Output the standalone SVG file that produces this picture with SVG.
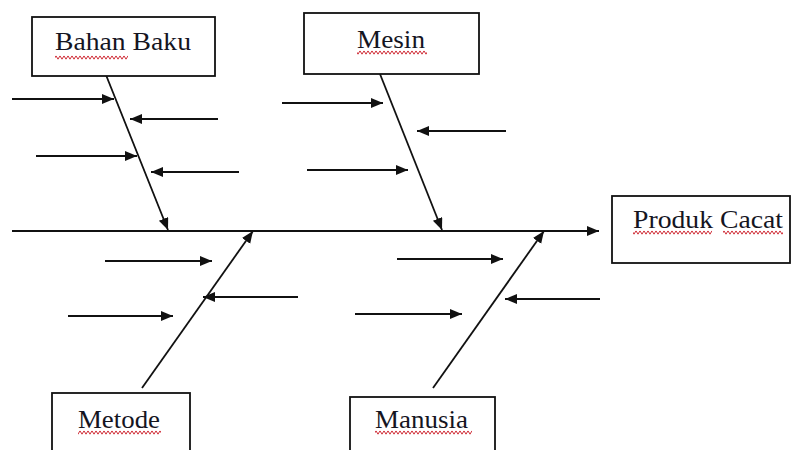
<svg xmlns="http://www.w3.org/2000/svg" width="793" height="450" viewBox="0 0 793 450">
  <style>
    .box { fill: #fff; stroke: #111; stroke-width: 1.8; }
    .label { font-family: "Liberation Serif", "Times New Roman", serif; font-size: 26px; fill: #15151f; }
    .line { stroke: #111; stroke-width: 1.8; fill: none; }
    .spine { stroke: #111; stroke-width: 2; fill: none; }
    .squiggle { fill: url(#squiggle); }
  </style>
  <defs>
    <marker id="arrow" markerUnits="userSpaceOnUse" markerWidth="13" markerHeight="11" refX="12" refY="5" orient="auto">
      <path d="M0,0 L12,5 L0,10 z" fill="#111"/>
    </marker>
    <!-- red wavy underline used under words -->
    <pattern id="squiggle" width="4" height="5" patternUnits="userSpaceOnUse">
      <path d="M0,0.8 L2,4.2 L4,0.8" stroke="#d0303a" stroke-width="1" fill="none"/>
    </pattern>
  </defs>

  <!-- connectors -->
  <g id="connectors">
    <!-- main spine -->
    <line class="spine" x1="12" y1="231" x2="599" y2="231" marker-end="url(#arrow)"/>

    <!-- Bahan Baku bone -->
    <line class="line" x1="106" y1="75" x2="168" y2="230" marker-end="url(#arrow)"/>
    <line class="line" x1="12" y1="99" x2="114" y2="99" marker-end="url(#arrow)"/>
    <line class="line" x1="218" y1="119" x2="130" y2="119" marker-end="url(#arrow)"/>
    <line class="line" x1="36" y1="156" x2="137" y2="156" marker-end="url(#arrow)"/>
    <line class="line" x1="239" y1="172" x2="151" y2="172" marker-end="url(#arrow)"/>

    <!-- Mesin bone -->
    <line class="line" x1="380" y1="74" x2="442" y2="230" marker-end="url(#arrow)"/>
    <line class="line" x1="282" y1="103" x2="383" y2="103" marker-end="url(#arrow)"/>
    <line class="line" x1="506" y1="131" x2="417" y2="131" marker-end="url(#arrow)"/>
    <line class="line" x1="307" y1="170" x2="408" y2="170" marker-end="url(#arrow)"/>

    <!-- Metode bone -->
    <line class="line" x1="142" y1="388" x2="253" y2="231" marker-end="url(#arrow)"/>
    <line class="line" x1="105" y1="261" x2="212" y2="261" marker-end="url(#arrow)"/>
    <line class="line" x1="298" y1="297" x2="203" y2="297" marker-end="url(#arrow)"/>
    <line class="line" x1="68" y1="316" x2="173" y2="316" marker-end="url(#arrow)"/>

    <!-- Manusia bone -->
    <line class="line" x1="433" y1="388" x2="544" y2="231" marker-end="url(#arrow)"/>
    <line class="line" x1="397" y1="259" x2="503" y2="259" marker-end="url(#arrow)"/>
    <line class="line" x1="600" y1="299" x2="505" y2="299" marker-end="url(#arrow)"/>
    <line class="line" x1="355" y1="314" x2="462" y2="314" marker-end="url(#arrow)"/>
  </g>

  <!-- cause categories -->
  <g id="bahan-baku">
    <rect class="box" x="32" y="17" width="183" height="59"/>
    <text class="label" x="55" y="50" textLength="136" lengthAdjust="spacingAndGlyphs">Bahan Baku</text>
    <rect class="squiggle" x="55" y="55" width="73" height="5"/>
  </g>

  <g id="mesin">
    <rect class="box" x="304" y="13" width="175" height="61"/>
    <text class="label" x="357" y="48" textLength="68" lengthAdjust="spacingAndGlyphs">Mesin</text>
    <rect class="squiggle" x="357" y="50" width="70" height="5"/>
  </g>

  <g id="metode">
    <rect class="box" x="52" y="393" width="138" height="70"/>
    <text class="label" x="78" y="428" textLength="82" lengthAdjust="spacingAndGlyphs">Metode</text>
    <rect class="squiggle" x="78" y="430" width="83" height="5"/>
  </g>

  <g id="manusia">
    <rect class="box" x="350" y="397" width="145" height="66"/>
    <text class="label" x="375" y="428" textLength="93" lengthAdjust="spacingAndGlyphs">Manusia</text>
    <rect class="squiggle" x="375" y="430" width="97" height="5"/>
  </g>

  <!-- effect -->
  <g id="produk-cacat">
    <rect class="box" x="612" y="196" width="178" height="67"/>
    <text class="label" x="633" y="228" textLength="150" lengthAdjust="spacingAndGlyphs">Produk Cacat</text>
    <rect class="squiggle" x="633" y="230" width="79" height="5"/>
    <rect class="squiggle" x="723" y="230" width="60" height="5"/>
  </g>
</svg>
